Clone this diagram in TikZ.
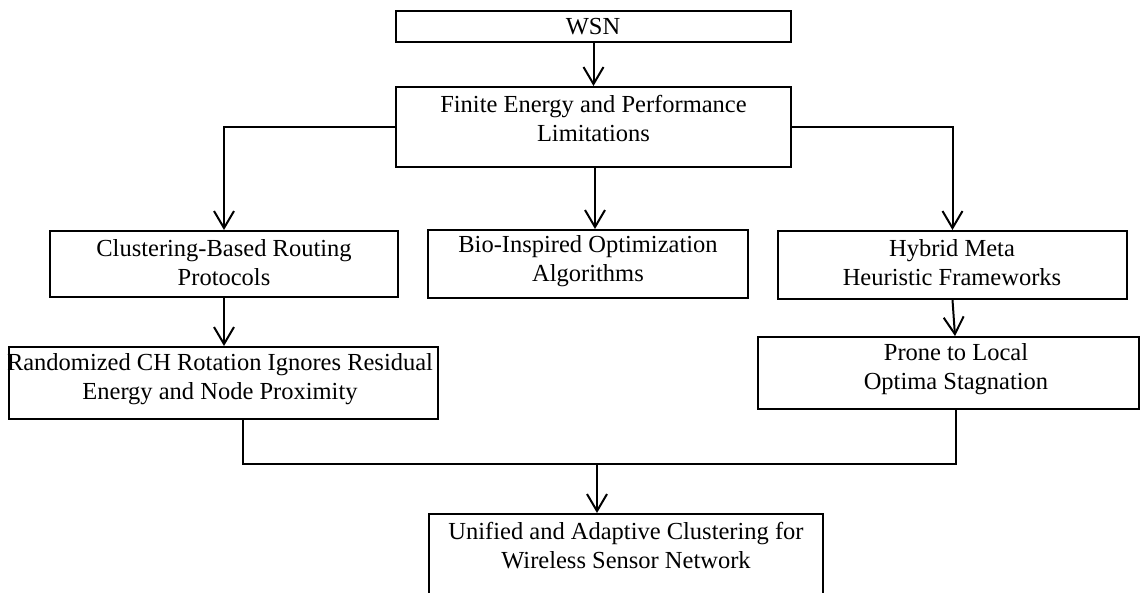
\documentclass[tikz,border=0pt]{standalone}
\usepackage{fontspec}
\setmainfont{Liberation Serif}
\usetikzlibrary{arrows.meta}
\begin{document}
\begin{tikzpicture}[x=1pt,y=-1pt,
  box/.style={draw, line width=2pt, inner sep=0pt},
  txt/.style={align=center, inner sep=0pt, font=\fontsize{24.5}{29}\selectfont},
  ln/.style={line width=2pt},
  arr/.style={line width=2pt, -{Straight Barb[length=17pt,width=20pt,line width=2pt]}}]
\clip (0,0) rectangle (1140,593);
\fill[white] (0,0) rectangle (1140,593);
% boxes
\node[box, minimum width=395pt, minimum height=31pt] (wsn) at (593.5,26.5) {};
\node[box, minimum width=395pt, minimum height=80pt] (fin) at (593.5,127) {};
\node[box, minimum width=348pt, minimum height=66pt] (clus) at (224,264) {};
\node[box, minimum width=320pt, minimum height=68pt] (bio) at (588,264) {};
\node[box, minimum width=349pt, minimum height=68pt] (hyb) at (952.5,265) {};
\node[box, minimum width=429pt, minimum height=72pt] (rand) at (223.5,383) {};
\node[box, minimum width=381pt, minimum height=72pt] (prone) at (948.5,373) {};
\node[box, minimum width=394pt, minimum height=100pt] (uni) at (626,564) {};
% texts
\node[txt] (wsnt) at (593,26.5) {WSN};
\node[txt] (fint) at (593.5,118) {Finite Energy and Performance\\Limitations};
\node[txt] (clust) at (224,263) {Clustering-Based Routing\\Protocols};
\node[txt] (biot) at (588,261.5) {Bio-Inspired Optimization\\Algorithms};
\node[txt] (hybt) at (952,262.5) {Hybrid Meta\\Heuristic Frameworks};
\node[txt] (randt) at (220,379.5) {Randomized CH Rotation Ignores Residual\\Energy and Node Proximity};
\node[txt] (pronet) at (956,369.5) {Prone to Local\\Optima Stagnation};
\node[txt] (unit) at (626,545.5) {Unified and Adaptive Clustering for\\Wireless Sensor Network};
% connector helpers
\coordinate (bt) at ([xshift=7pt]bio.north);
\coordinate (pt) at ([xshift=6.5pt]prone.north);
\coordinate (rb) at ([xshift=19.5pt]rand.south);
\coordinate (pb) at ([xshift=7.5pt]prone.south);
\coordinate (ut) at ([xshift=-29pt]uni.north);
\coordinate (j) at (597,464);
% connectors
\draw[arr] (wsn.south) -- (fin.north);
\draw[arr] (fin.west) -| (clus.north);
\draw[arr] (fin.south -| bt) -- (bt);
\draw[arr] (fin.east) -| (hyb.north);
\draw[arr] (clus.south) -- (clus.south |- rand.north);
\draw[arr] (hyb.south) -- (pt);
\draw[ln] (rb) |- (j);
\draw[ln] (pb) |- (j);
\draw[arr] (j) -- (ut);
\end{tikzpicture}
\end{document}
